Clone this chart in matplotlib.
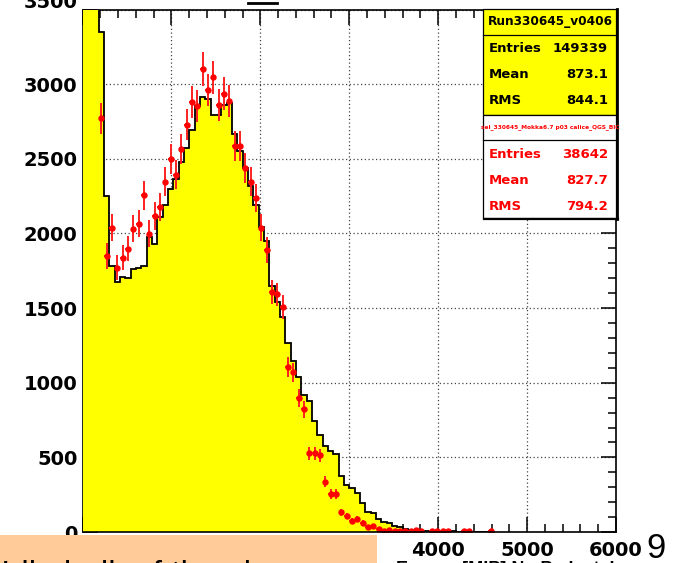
import numpy as np
import matplotlib
matplotlib.use("Agg")
import matplotlib.pyplot as plt
from matplotlib.patches import Rectangle
from matplotlib.lines import Line2D
from matplotlib.ticker import MultipleLocator, FuncFormatter

nan = float("nan")

# histogram bin width (energy units) and bin contents
binWidth = 60
dataCounts = [12000, 9000, 5200, 3350, 2248, 1780, 1672, 1707, 1700, 1760,
              1770, 1780, 1975, 1926, 2107, 2188, 2295, 2362, 2481, 2570,
              2694, 2855, 2917, 2899, 2794, 2794, 2859, 2877, 2664, 2552,
              2441, 2318, 2190, 2040, 1950, 1646, 1540, 1440, 1265, 1143,
              1035, 920, 880, 745, 648, 573, 545, 520, 378, 315,
              293, 260, 193, 136, 125, 85, 69, 58, 40, 35,
              20, 14, 12, 10, 8, 8, 6, 5, 5, 4,
              3, 3, 2, 2, 1, 1, 0]
mcCounts = [9000, 7000, 4200, 2770, 1848, 2038, 1770, 1837, 1899, 2031,
            2065, 2255, 1998, 2116, 2179, 2347, 2497, 2394, 2564, 2728,
            2880, 2855, 3101, 2961, 3045, 2861, 2937, 2886, 2586, 2586,
            2438, 2347, 2239, 2038, 1890, 1610, 1591, 1508, 1103, 1069,
            897, 821, 526, 526, 514, 338, 253, 256, 133, 107,
            75, 90, 63, 31, 40, 20, 5, 13, 9, 9,
            9, 10, 12, 5, nan, 8, 5, 5, 5, nan,
            nan, 5, 5, nan, nan, nan, 8]
mcErrors = [190, 170, 130, 105, 85, 90, 85, 85, 87, 90,
            90, 95, 90, 92, 93, 97, 100, 98, 101, 104,
            107, 107, 111, 109, 110, 107, 108, 107, 102, 102,
            99, 97, 95, 90, 87, 80, 80, 78, 66, 65,
            60, 57, 46, 46, 45, 37, 32, 32, 23, 21,
            17, 19, 16, 11, 13, 9, 4, 7, 6, 6,
            6, 6, 7, 4, 0, 6, 4, 4, 4, 0,
            0, 4, 4, 0, 0, 0, 6]

dataTitle = "Run330645_v0406"
mcTitle = "sel_330645_Mokka6.7 p03 calice_QGS_BIC"
statNames = ["Entries", "Mean", "RMS"]
dataStats = ["149339", "873.1", "844.1"]
mcStats = ["38642", "827.7", "794.2"]
topLabel = "3500"

W, H = 677, 563
plt.rcParams['font.family'] = ['DejaVu Sans']
plt.rcParams['font.weight'] = 'bold'

fig = plt.figure(figsize=(W / 100, H / 100), dpi=100)
ax = fig.add_axes([82.5 / W, 1 - 532 / H, (616 - 82.5) / W, (532 - 9.5) / H])

edges = np.arange(len(dataCounts) + 1) * binWidth
centers = edges[:-1] + binWidth / 2

ax.stairs(dataCounts, edges, fill=True, color='#ffff00', zorder=2.6)
ax.stairs(dataCounts, edges, baseline=None, color='black', lw=1.3, zorder=2.7)
ax.errorbar(centers, mcCounts, yerr=mcErrors, xerr=binWidth / 2, fmt='o', ms=3.6,
            color='#ff0000', ecolor='#ff2020', elinewidth=1.4, capsize=0, zorder=3)

ax.set_xlim(0, 6000)
ax.set_ylim(0, 3500)
ax.xaxis.set_major_locator(MultipleLocator(1000))
ax.xaxis.set_minor_locator(MultipleLocator(200))
ax.yaxis.set_major_locator(MultipleLocator(500))
ax.yaxis.set_minor_locator(MultipleLocator(100))
# the top label sits higher in the original, it is drawn separately below
ax.yaxis.set_major_formatter(FuncFormatter(lambda v, p: "" if v >= 3500 else "%d" % v))
ax.tick_params(which='both', direction='in', top=True, right=True,
               color='black', width=1.1, labelsize=14)
ax.tick_params(which='major', length=10.8)
ax.tick_params(which='minor', length=5.8)
ax.tick_params(axis='y', pad=3.5)
ax.tick_params(axis='x', pad=6.5)
ax.grid(which='major', color='#444444', linestyle=(0, (1, 2)), linewidth=0.9)
for s in ax.spines.values():
    s.set_linewidth(1.2)
ax.spines['bottom'].set_zorder(4)
ax.spines['right'].set_zorder(4)

fig.text(78 / W, 1 - 3 / H, topLabel, ha='right', va='center', fontsize=14)


def box(x0, y0, x1, y1, **kw):
    r = Rectangle((x0 / W, 1 - y1 / H), (x1 - x0) / W, (y1 - y0) / H,
                  transform=fig.transFigure, **kw)
    fig.add_artist(r)


def hline(x0, x1, y, lw=0.9):
    fig.add_artist(Line2D([x0 / W, x1 / W], [1 - y / H, 1 - y / H],
                          color='black', lw=lw, zorder=7))


def vline(x, y0, y1, lw=0.9):
    fig.add_artist(Line2D([x / W, x / W], [1 - y0 / H, 1 - y1 / H],
                          color='black', lw=lw, zorder=7))


# stat boxes (data: yellow, simulation: white with red text)
box(483, 9, 616, 115, facecolor='#ffff00', edgecolor='black', lw=0.9, zorder=6)
hline(483, 616, 35)
box(483, 115, 616, 218, facecolor='white', edgecolor='black', lw=0.9, zorder=6)
hline(483, 616, 140)
vline(617, 9, 219, lw=2)
hline(484, 618, 218.5, lw=1.6)

fig.text(550 / W, 1 - 22 / H, dataTitle, ha='center', va='center',
         fontsize=8.7, color='black', zorder=8)
fig.text(550 / W, 1 - 127 / H, mcTitle, ha='center', va='center',
         fontsize=4.2, color='#ff0000', zorder=8)
for i, name in enumerate(statNames):
    y1 = 49 + 26 * i
    y2 = 154 + 26.5 * i
    fig.text(489 / W, 1 - y1 / H, name, ha='left', va='center', fontsize=9.5, zorder=8)
    fig.text(608 / W, 1 - y1 / H, dataStats[i], ha='right', va='center', fontsize=9.5, zorder=8)
    fig.text(489 / W, 1 - y2 / H, name, ha='left', va='center', fontsize=9.5,
             color='#ff0000', zorder=8)
    fig.text(608 / W, 1 - y2 / H, mcStats[i], ha='right', va='center', fontsize=9.5,
             color='#ff0000', zorder=8)

# slide decorations around the cut-out chart
fig.add_artist(Line2D([248 / W, 277 / W], [1 - 3 / H, 1 - 3 / H], color='black', lw=2))
box(0, 535, 377, 570, facecolor='#ffcc99', edgecolor='none', zorder=5)
fig.text(1 / W, 1 - 584.5 / H, "Idle bulk of the shower", fontsize=24,
         family='Liberation Sans', weight='normal', color='black', va='baseline', zorder=6)
fig.text(396 / W, 1 - 574.5 / H, "Energy [MIP] No Pedestal", fontsize=13,
         family='Liberation Sans', color='black', va='baseline', zorder=6)
fig.text(656 / W, 1 - 558 / H, "9", fontsize=25, family='Liberation Sans',
         weight='normal', ha='center', va='baseline', zorder=6)

fig.savefig("out.png", dpi=100)
